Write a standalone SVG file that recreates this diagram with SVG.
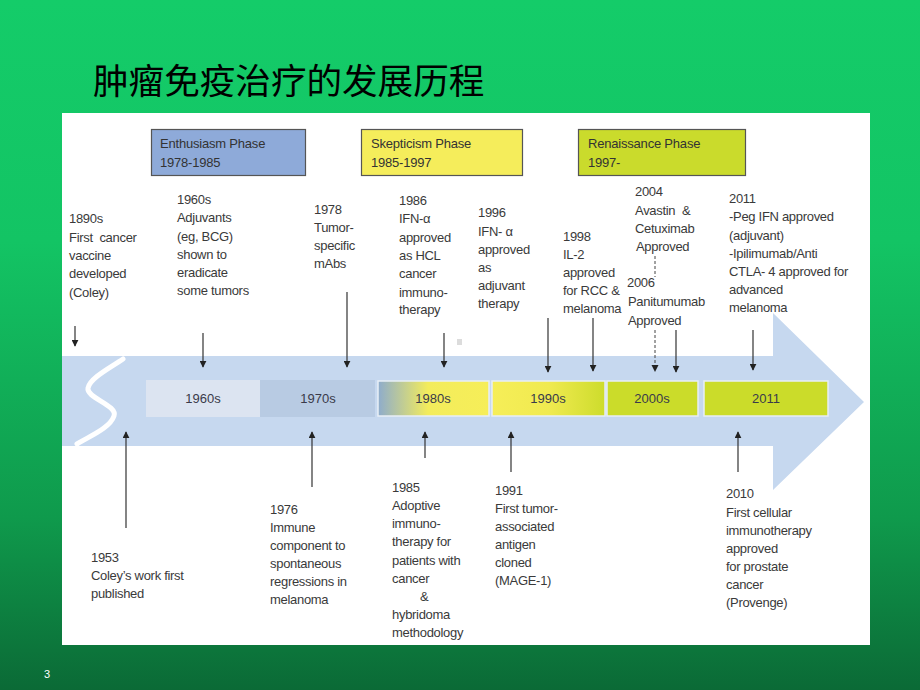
<svg xmlns="http://www.w3.org/2000/svg" width="920" height="690" viewBox="0 0 920 690">
  <defs>
    <linearGradient id="bg" x1="0" y1="0" x2="0" y2="1">
      <stop offset="0" stop-color="#14cc69"/>
      <stop offset="0.35" stop-color="#13c464"/>
      <stop offset="0.75" stop-color="#0f9a4c"/>
      <stop offset="1" stop-color="#0b6a36"/>
    </linearGradient>
    <linearGradient id="g80" x1="0" y1="0" x2="1" y2="0">
      <stop offset="0" stop-color="#8eaccc"/>
      <stop offset="0.45" stop-color="#f3ec5c"/>
      <stop offset="1" stop-color="#f6ee58"/>
    </linearGradient>
    <linearGradient id="g90" x1="0" y1="0" x2="1" y2="0">
      <stop offset="0" stop-color="#f6ee58"/>
      <stop offset="0.5" stop-color="#f0ea50"/>
      <stop offset="1" stop-color="#cddc2c"/>
    </linearGradient>
    <marker id="ah" viewBox="0 0 10 10" refX="9" refY="5" markerWidth="7" markerHeight="7" markerUnits="userSpaceOnUse" orient="auto">
      <path d="M0,0 L10,5 L0,10 z" fill="#222"/>
    </marker>
    <style>
      .t{font-family:"Liberation Sans",Arial,sans-serif;font-size:13px;fill:#3a3a3a;letter-spacing:-0.3px}
      .ph{font-family:"Liberation Sans",Arial,sans-serif;font-size:13px;fill:#333;letter-spacing:-0.2px}
      .bx{font-family:"Liberation Sans",Arial,sans-serif;font-size:13px;fill:#3a3a4a;text-anchor:middle}
      .ln{stroke:#333;stroke-width:1.2;fill:none;marker-end:url(#ah)}
      .dash{stroke:#444;stroke-width:1;fill:none;stroke-dasharray:3 2}
      .seg{stroke:#e8eef6;stroke-width:1.5}
    </style>
  </defs>
  <rect width="920" height="690" fill="url(#bg)"/>
  <text x="93" y="94" font-family="'Noto Sans CJK SC','Noto Sans CJK TC',sans-serif" font-size="35.6" fill="#000">肿瘤免疫治疗的发展历程</text>
  <text x="44" y="678" font-family="'Liberation Sans',Arial,sans-serif" font-size="11" fill="#ffffff">3</text>
  <rect x="62" y="113" width="808" height="532" fill="#ffffff"/>

  <!-- band arrow -->
  <g id="band">
    <path d="M62,356 L773,356 L773,313 L864,402 L773,490 L773,446 L62,446 Z" fill="#c6d8ef"/>
    <path d="M123,359 C110,368 90,378 88,388 C86,398 118,405 114,416 C110,428 90,436 77,444" stroke="#ffffff" stroke-width="5" fill="none" stroke-linecap="round"/>
    <rect x="457" y="339" width="5" height="6" fill="#dcdcdc"/>
  </g>

  <!-- segments -->
  <g id="seg1960"><rect x="146" y="380" width="114" height="37" fill="#dce4f1"/><text class="bx" x="203" y="403">1960s</text></g>
  <g id="seg1970"><rect x="260" y="380" width="115" height="37" fill="#b8cbe3"/><text class="bx" x="318" y="403">1970s</text></g>
  <g id="seg1980"><rect class="seg" x="378" y="381" width="111" height="35" fill="url(#g80)"/><text class="bx" x="433" y="403">1980s</text></g>
  <g id="seg1990"><rect class="seg" x="492" y="381" width="113" height="35" fill="url(#g90)"/><text class="bx" x="548" y="403">1990s</text></g>
  <g id="seg2000"><rect class="seg" x="607" y="381" width="91" height="35" fill="#cbdc2a"/><text class="bx" x="652" y="403">2000s</text></g>
  <g id="seg2011"><rect class="seg" x="704" y="381" width="124" height="35" fill="#cbdc2a"/><text class="bx" x="766" y="403">2011</text></g>

  <!-- phases -->
  <g id="phase1"><rect x="151.5" y="129.5" width="154" height="46" fill="#8eaad9" stroke="#555" stroke-width="1.2"/><text class="ph" x="160" y="148">Enthusiasm Phase</text><text class="ph" x="160" y="167">1978-1985</text></g>
  <g id="phase2"><rect x="361.5" y="129.5" width="161" height="46" fill="#f5ed5b" stroke="#555" stroke-width="1.2"/><text class="ph" x="371" y="148">Skepticism Phase</text><text class="ph" x="371" y="167">1985-1997</text></g>
  <g id="phase3"><rect x="578.5" y="129.5" width="167" height="46" fill="#cadb2c" stroke="#555" stroke-width="1.2"/><text class="ph" x="588" y="148">Renaissance Phase</text><text class="ph" x="588" y="167">1997-</text></g>

  <!-- connectors -->
  <g id="connectors">
    <line class="ln" x1="75" y1="326" x2="75" y2="346"/>
    <line class="ln" x1="203" y1="333" x2="203" y2="367"/>
    <line class="ln" x1="347" y1="292" x2="347" y2="367"/>
    <line class="ln" x1="444" y1="333" x2="444" y2="367"/>
    <line class="ln" x1="548" y1="318" x2="548" y2="372"/>
    <line class="ln" x1="593" y1="318" x2="593" y2="371"/>
    <line class="dash" x1="655" y1="256" x2="655" y2="277"/>
    <line class="dash" x1="655" y1="330" x2="655" y2="366"/>
    <path d="M651.5,365 L658.5,365 L655,372 z" fill="#222"/>
    <line class="ln" x1="676" y1="330" x2="676" y2="372"/>
    <line class="ln" x1="753" y1="330" x2="753" y2="370"/>
    <line class="ln" x1="126" y1="528" x2="126" y2="432"/>
    <line class="ln" x1="312" y1="487" x2="312" y2="432"/>
    <line class="ln" x1="425" y1="458" x2="425" y2="432"/>
    <line class="ln" x1="511" y1="472" x2="511" y2="432"/>
    <line class="ln" x1="738" y1="472" x2="738" y2="432"/>
  </g>

  <!-- top texts -->
  <g id="n1890"><text class="t" x="69" y="223">1890s</text><text class="t" x="69" y="242" xml:space="preserve">First  cancer</text><text class="t" x="69" y="260">vaccine</text><text class="t" x="69" y="278">developed</text><text class="t" x="69" y="297">(Coley)</text></g>
  <g id="n1960"><text class="t" x="177" y="204">1960s</text><text class="t" x="177" y="222">Adjuvants</text><text class="t" x="177" y="241">(eg, BCG)</text><text class="t" x="177" y="259">shown to</text><text class="t" x="177" y="277">eradicate</text><text class="t" x="177" y="295">some tumors</text></g>
  <g id="n1978"><text class="t" x="314" y="214">1978</text><text class="t" x="314" y="232">Tumor-</text><text class="t" x="314" y="250">specific</text><text class="t" x="314" y="268">mAbs</text></g>
  <g id="n1986"><text class="t" x="399" y="205">1986</text><text class="t" x="399" y="223">IFN-α</text><text class="t" x="399" y="241.5">approved</text><text class="t" x="399" y="259.5">as HCL</text><text class="t" x="399" y="278">cancer</text><text class="t" x="399" y="296.5">immuno-</text><text class="t" x="399" y="314">therapy</text></g>
  <g id="n1996"><text class="t" x="478" y="217">1996</text><text class="t" x="478" y="235.5">IFN- α</text><text class="t" x="478" y="254">approved</text><text class="t" x="478" y="272">as</text><text class="t" x="478" y="290">adjuvant</text><text class="t" x="478" y="308">therapy</text></g>
  <g id="n1998"><text class="t" x="563" y="240.5">1998</text><text class="t" x="563" y="258.5">IL-2</text><text class="t" x="563" y="276.5">approved</text><text class="t" x="563" y="294.5">for RCC &amp;</text><text class="t" x="563" y="312.5">melanoma</text></g>
  <g id="n2004"><text class="t" x="635" y="196">2004</text><text class="t" x="635" y="214.5" xml:space="preserve">Avastin  &amp;</text><text class="t" x="635" y="233">Cetuximab</text><text class="t" x="636" y="251">Approved</text></g>
  <g id="n2006"><text class="t" x="627" y="287">2006</text><text class="t" x="628" y="306">Panitumumab</text><text class="t" x="628" y="325">Approved</text></g>
  <g id="n2011"><text class="t" x="729" y="203">2011</text><text class="t" x="729" y="221">-Peg IFN approved</text><text class="t" x="729" y="239.5">(adjuvant)</text><text class="t" x="729" y="258">-Ipilimumab/Anti</text><text class="t" x="729" y="276">CTLA- 4 approved for</text><text class="t" x="729" y="294">advanced</text><text class="t" x="729" y="312">melanoma</text></g>

  <!-- bottom texts -->
  <g id="n1953"><text class="t" x="91" y="562">1953</text><text class="t" x="91" y="580">Coley’s work first</text><text class="t" x="91" y="598">published</text></g>
  <g id="n1976"><text class="t" x="270" y="513.5">1976</text><text class="t" x="270" y="532">Immune</text><text class="t" x="270" y="550">component to</text><text class="t" x="270" y="568">spontaneous</text><text class="t" x="270" y="586">regressions in</text><text class="t" x="270" y="604">melanoma</text></g>
  <g id="n1985"><text class="t" x="392" y="492">1985</text><text class="t" x="392" y="510">Adoptive</text><text class="t" x="392" y="528">immuno-</text><text class="t" x="392" y="546">therapy for</text><text class="t" x="392" y="564.5">patients with</text><text class="t" x="392" y="582.5">cancer</text><text class="t" x="420" y="600.5">&amp;</text><text class="t" x="392" y="618.5">hybridoma</text><text class="t" x="392" y="636.5">methodology</text></g>
  <g id="n1991"><text class="t" x="495" y="495">1991</text><text class="t" x="495" y="513">First tumor-</text><text class="t" x="495" y="531">associated</text><text class="t" x="495" y="549">antigen</text><text class="t" x="495" y="567">cloned</text><text class="t" x="495" y="585">(MAGE-1)</text></g>
  <g id="n2010"><text class="t" x="726" y="498">2010</text><text class="t" x="726" y="516.5">First cellular</text><text class="t" x="726" y="535">immunotherapy</text><text class="t" x="726" y="553">approved</text><text class="t" x="726" y="571">for prostate</text><text class="t" x="726" y="589">cancer</text><text class="t" x="726" y="607">(Provenge)</text></g>
</svg>
